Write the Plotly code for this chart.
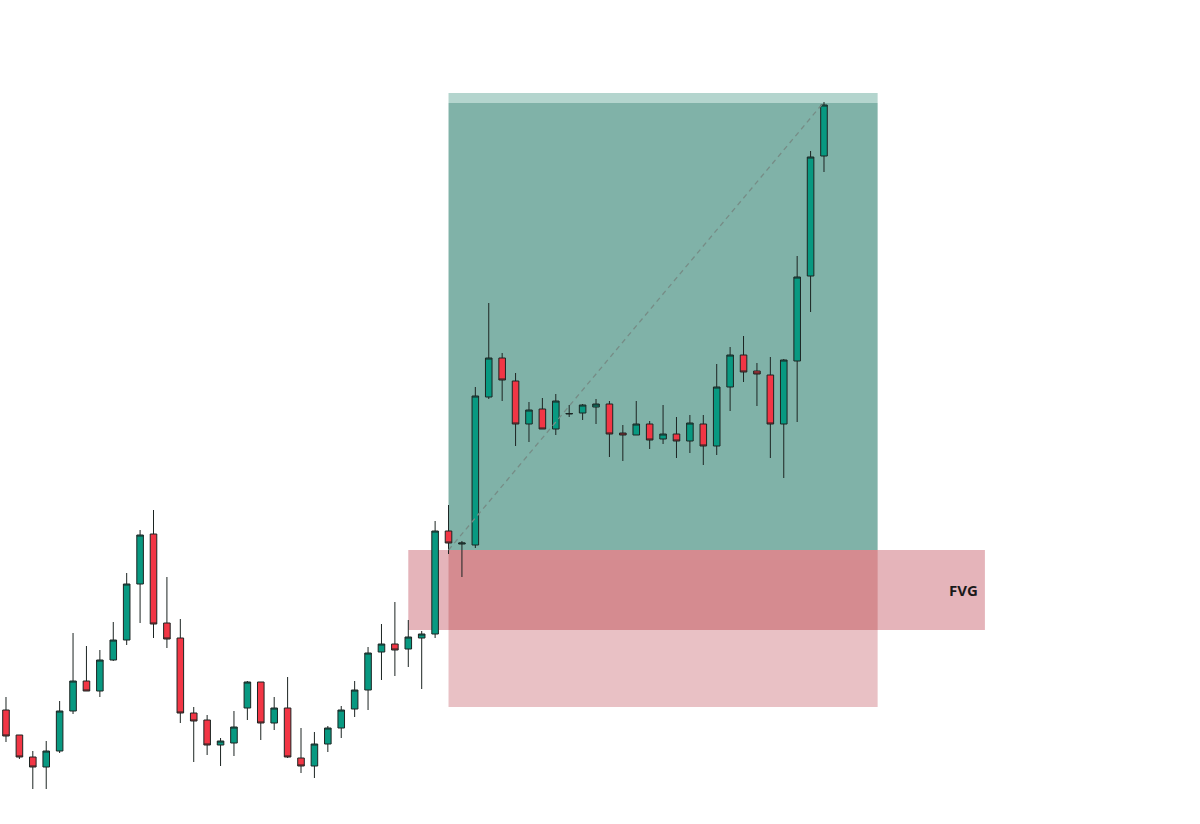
import plotly.graph_objects as go

# OHLC data (price units, higher = up)
opens  = [114, 89, 67, 57, 73, 113, 143, 133, 164, 184, 240, 290, 201, 186, 111, 104, 79, 81, 116, 142,
          101, 116, 66, 58, 80, 96, 115, 134, 172, 180, 175, 186, 190, 293, 280, 279, 427, 466, 443, 400,
          415, 395, 410, 411, 417, 420, 391, 389, 400, 385, 390, 383, 400, 378, 437, 469, 453, 449, 400, 463,
          548, 668]
highs  = [127, 89, 73, 83, 123, 191, 178, 174, 202, 251, 294, 314, 247, 205, 117, 109, 86, 113, 143, 142,
          127, 147, 96, 92, 98, 118, 143, 177, 200, 222, 204, 193, 303, 319, 283, 437, 521, 471, 451, 422,
          426, 430, 419, 420, 425, 423, 399, 423, 403, 419, 407, 409, 409, 460, 477, 488, 461, 467, 465, 568,
          673, 722]
lows   = [82, 65, 35, 35, 71, 110, 133, 127, 163, 179, 201, 186, 176, 101, 62, 69, 58, 68, 104, 84,
          94, 66, 51, 46, 72, 86, 107, 114, 144, 148, 157, 135, 186, 270, 247, 276, 425, 423, 378, 382,
          395, 389, 407, 404, 400, 367, 363, 389, 375, 380, 366, 371, 359, 369, 413, 442, 418, 366, 346, 402,
          512, 652]
closes = [88, 67, 57, 73, 113, 143, 133, 164, 184, 240, 289, 200, 185, 111, 103, 79, 83, 97, 142, 101,
          116, 67, 58, 80, 96, 114, 134, 171, 180, 174, 187, 190, 293, 281, 281, 428, 466, 444, 400, 414,
          395, 423, 410.5, 419, 420, 390, 389, 400, 384, 390, 383, 401, 378, 437, 469, 452, 450, 400, 464, 547,
          667, 719]

# Position tool levels
entry_price = 274
target_price = 721
target_top = 731
stop_price = 117
pos_start, pos_end = 33, 65

# FVG zone
fvg_top, fvg_bottom = 274, 194
fvg_start, fvg_end = 30, 73

idx = list(range(len(opens)))

fig = go.Figure()
fig.add_trace(go.Candlestick(
    x=idx, open=opens, high=highs, low=lows, close=closes,
    increasing=dict(fillcolor="#089981", line=dict(color="#1c2422", width=1)),
    decreasing=dict(fillcolor="#f23645", line=dict(color="#1c2422", width=1)),
    whiskerwidth=0, showlegend=False, hoverinfo="skip",
))

# overlap of stop zone and FVG
ov_x0, ov_x1 = max(pos_start, fvg_start), min(pos_end, fvg_end)
ov_y0, ov_y1 = max(stop_price, fvg_bottom), min(entry_price, fvg_top)

shapes = [
    # profit zone
    dict(type="rect", x0=pos_start, x1=pos_end, y0=entry_price, y1=target_price,
         fillcolor="rgb(128,178,168)", line=dict(width=0), layer="below"),
    dict(type="rect", x0=pos_start, x1=pos_end, y0=target_price, y1=target_top,
         fillcolor="rgb(180,213,206)", line=dict(width=0), layer="below"),
    # stop zone
    dict(type="rect", x0=pos_start, x1=pos_end, y0=stop_price, y1=entry_price,
         fillcolor="rgb(233,193,197)", line=dict(width=0), layer="below"),
    # FVG
    dict(type="rect", x0=fvg_start, x1=fvg_end, y0=fvg_bottom, y1=fvg_top,
         fillcolor="rgb(229,180,186)", line=dict(width=0), layer="below"),
    # overlap
    dict(type="rect", x0=ov_x0, x1=ov_x1, y0=ov_y0, y1=ov_y1,
         fillcolor="rgb(213,139,144)", line=dict(width=0), layer="below"),
    # diagonal dashed
    dict(type="line", x0=pos_start, y0=entry_price, x1=61, y1=highs[61],
         line=dict(color="rgb(118,140,134)", width=1.3, dash="5px,4px"), layer="above"),
]

fig.update_layout(
    width=1200, height=824,
    margin=dict(l=0, r=0, t=0, b=0),
    paper_bgcolor="white", plot_bgcolor="white",
    shapes=shapes,
    xaxis=dict(range=[-0.447, 89.04], visible=False, rangeslider=dict(visible=False), fixedrange=True),
    yaxis=dict(range=[0, 824], visible=False, fixedrange=True),
    annotations=[dict(x=fvg_end, y=(fvg_top + fvg_bottom) / 2, text="<b>FVG</b>", showarrow=False,
                      xanchor="right", xshift=-5, font=dict(family="Open Sans", size=15, color="#1a1a1a"))],
)

fig.write_html("out.html", config={"displayModeBar": False},
               post_script="document.body.style.margin='0';")
